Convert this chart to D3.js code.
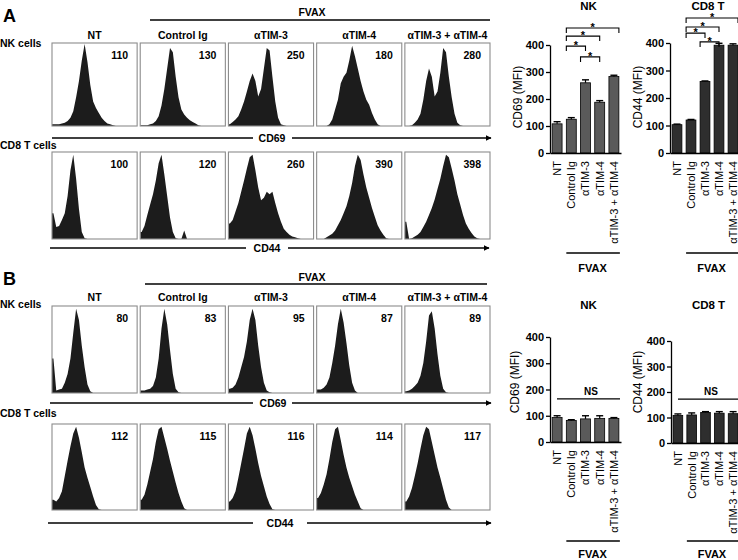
<!DOCTYPE html>
<html>
<head>
<meta charset="utf-8">
<script src="https://cdn.jsdelivr.net/npm/d3@7"></script>
<style>
  html, body { margin: 0; padding: 0; background: #fff; }
  svg { display: block; font-family: "Liberation Sans", Arial, sans-serif; }
</style>
</head>
<body>
<svg id="fig" width="738" height="560"></svg>
<script>
// ---------------- DATA ----------------
const conditions = ["NT", "Control Ig", "αTIM-3", "αTIM-4", "αTIM-3 + αTIM-4"];
const treated = ["Control Ig", "αTIM-3", "αTIM-4", "αTIM-3 + αTIM-4"];

// MFI numbers printed inside the flow histograms
const mfiA_NK  = [110, 130, 250, 180, 280];
const mfiA_CD8 = [100, 120, 260, 390, 398];
const mfiB_NK  = [80, 83, 95, 87, 89];
const mfiB_CD8 = [112, 115, 116, 114, 117];

// Histogram heights (fraction of box height) read per bin across each box (30 bins)
const histA_NK = [
  [0.02,0.02,0.02,0.03,0.04,0.06,0.10,0.18,0.35,0.55,0.80,1.00,0.78,0.50,0.30,0.22,0.16,0.10,0.06,0.03,0.02,0.01,0,0,0,0,0,0,0,0],
  [0.01,0.01,0.01,0.02,0.03,0.06,0.12,0.25,0.45,0.70,0.95,0.90,0.60,0.35,0.20,0.14,0.10,0.07,0.05,0.03,0.01,0,0,0,0,0,0,0,0,0],
  [0.02,0.05,0.08,0.12,0.20,0.30,0.42,0.55,0.64,0.55,0.36,0.45,0.70,0.95,0.92,0.60,0.30,0.10,0.02,0.01,0,0,0,0,0,0,0,0,0,0],
  [0,0,0,0,0.02,0.08,0.20,0.32,0.52,0.60,0.65,0.80,0.98,0.85,0.70,0.55,0.42,0.32,0.26,0.16,0.08,0.02,0,0,0,0,0,0,0,0],
  [0,0,0.01,0.04,0.08,0.15,0.32,0.55,0.70,0.60,0.36,0.42,0.65,0.95,0.90,0.60,0.35,0.15,0.04,0.01,0,0,0,0,0,0,0,0,0,0]
];
const histA_CD8 = [
  [0.30,0.14,0.15,0.22,0.30,0.50,0.80,0.98,0.70,0.35,0.08,0.01,0,0,0,0,0,0,0,0,0,0,0,0,0,0,0,0,0,0],
  [0.08,0.15,0.28,0.40,0.52,0.68,0.88,0.98,0.75,0.50,0.25,0.08,0.01,0,0,0.10,0,0,0,0,0,0,0,0,0,0,0,0,0,0],
  [0.18,0.22,0.32,0.42,0.55,0.68,0.82,0.95,0.98,0.80,0.60,0.45,0.48,0.55,0.52,0.55,0.42,0.30,0.20,0.12,0.08,0.05,0.03,0.02,0.01,0,0,0,0,0],
  [0,0,0,0.02,0.04,0.06,0.10,0.16,0.22,0.30,0.38,0.50,0.65,0.85,0.98,0.92,0.75,0.60,0.48,0.36,0.26,0.16,0.10,0.05,0.01,0,0,0,0,0],
  [0.20,0,0.01,0.03,0.05,0.08,0.14,0.20,0.28,0.36,0.46,0.58,0.70,0.85,0.98,0.95,0.82,0.68,0.52,0.40,0.28,0.18,0.12,0.07,0.03,0.01,0,0,0,0]
];
const histB_NK = [
  [0.40,0.03,0.04,0.05,0.12,0.22,0.40,0.70,0.98,0.85,0.55,0.30,0.10,0.02,0,0,0,0,0,0,0,0,0,0,0,0,0,0,0,0],
  [0.03,0.03,0.04,0.05,0.08,0.18,0.40,0.75,0.98,0.80,0.50,0.22,0.05,0.01,0,0,0,0,0,0,0,0,0,0,0,0,0,0,0,0],
  [0.05,0.06,0.10,0.18,0.30,0.42,0.60,0.85,0.98,0.85,0.55,0.30,0.12,0.03,0.01,0,0,0,0,0,0,0,0,0,0,0,0,0,0,0],
  [0.04,0.04,0.06,0.10,0.18,0.35,0.55,0.80,0.98,0.82,0.58,0.32,0.12,0.03,0,0,0,0,0,0,0,0,0,0,0,0,0,0,0,0],
  [0.02,0.03,0.05,0.08,0.12,0.20,0.35,0.60,0.90,0.95,0.75,0.45,0.20,0.05,0.01,0,0,0,0,0,0,0,0,0,0,0,0,0,0,0]
];
const histB_CD8 = [
  [0.12,0.10,0.14,0.22,0.40,0.58,0.75,0.90,0.98,0.85,0.68,0.50,0.38,0.27,0.16,0.06,0.01,0,0,0,0,0,0,0,0,0,0,0,0,0],
  [0.12,0.18,0.30,0.45,0.60,0.80,0.95,0.98,0.85,0.72,0.58,0.45,0.32,0.20,0.10,0.02,0,0,0,0,0,0,0,0,0,0,0,0,0,0],
  [0.10,0.14,0.22,0.38,0.55,0.72,0.90,0.98,0.88,0.72,0.55,0.40,0.28,0.16,0.07,0.01,0,0,0,0,0,0,0,0,0,0,0,0,0,0],
  [0.14,0.20,0.30,0.42,0.60,0.80,0.95,0.98,0.82,0.65,0.50,0.38,0.28,0.18,0.10,0.02,0,0,0,0,0,0,0,0,0,0,0,0,0,0],
  [0.10,0.16,0.26,0.40,0.55,0.72,0.88,0.98,0.95,0.80,0.65,0.50,0.38,0.25,0.12,0.03,0,0,0,0,0,0,0,0,0,0,0,0,0,0]
];

// Bar chart summaries (mean MFI and error)
const barA_NK   = [108, 125, 260, 188, 283];
const errA_NK   = [8, 6, 11, 6, 5];
const barA_CD8  = [103, 120, 260, 392, 392];
const errA_CD8  = [2, 2, 2, 7, 5];
const barB_NK   = [93, 82, 88, 90, 90];
const errB_NK   = [7, 3, 12, 10, 3];
const barB_CD8  = [108, 110, 120, 117, 115];
const errB_CD8  = [6, 8, 3, 6, 8];
const yTicks = [0, 100, 200, 300, 400];

// Significance brackets: [from, to, level (MFI units)]
const sigA_NK = [
  ["Control Ig", "αTIM-3", 396],
  ["Control Ig", "αTIM-4", 433],
  ["Control Ig", "αTIM-3 + αTIM-4", 463],
  ["αTIM-3", "αTIM-4", 356]
];
const sigA_CD8 = [
  ["Control Ig", "αTIM-3", 436],
  ["Control Ig", "αTIM-4", 458],
  ["Control Ig", "αTIM-3 + αTIM-4", 491],
  ["αTIM-3", "αTIM-4", 404]
];
const nsLevelB_NK = 164;
const nsLevelB_CD8 = 172;

// ---------------- DRAWING ----------------
const svg = d3.select("#fig");
svg.append("rect").attr("width", 738).attr("height", 560).attr("fill", "#fff");
const FONT = "'Liberation Sans', Arial, sans-serif";

const defs = svg.append("defs");
defs.append("marker").attr("id", "arrow").attr("viewBox", "0 0 10 10")
  .attr("refX", 9).attr("refY", 5).attr("markerWidth", 6).attr("markerHeight", 6)
  .attr("markerUnits", "userSpaceOnUse").attr("orient", "auto")
  .append("path").attr("d", "M0,0 L10,5 L0,10 Z").attr("fill", "#000");

function txt(x, y, s, opts = {}) {
  return svg.append("text").attr("x", x).attr("y", y).text(s)
    .attr("font-family", FONT)
    .attr("font-size", opts.size || 10.5)
    .attr("font-weight", opts.weight || "bold")
    .attr("text-anchor", opts.anchor || "start")
    .attr("fill", "#000");
}
function hline(x1, x2, y, w = 1.3) {
  svg.append("line").attr("x1", x1).attr("x2", x2).attr("y1", y).attr("y2", y)
    .attr("stroke", "#000").attr("stroke-width", w);
}

const boxX = d3.scaleBand().domain(conditions).range([52, 490]).paddingInner(0.035).paddingOuter(0);

function histRow(hists, mfis, top, bottom, clipId) {
  const g = svg.append("g");
  conditions.forEach((c, k) => {
    const x0 = boxX(c), w = boxX.bandwidth();
    const n = hists[k].length;
    const hx = d3.scaleLinear().domain([0, n]).range([x0, x0 + w]);
    const hy = d3.scaleLinear().domain([0, 1]).range([bottom, top + 1]);
    const pts = [{ x: 0, v: hists[k][0] }]
      .concat(hists[k].map((v, i) => ({ x: i + 0.5, v })))
      .concat([{ x: n, v: hists[k][n - 1] }]);
    const id = clipId + k;
    defs.append("clipPath").attr("id", id).append("rect")
      .attr("x", x0).attr("y", top).attr("width", w).attr("height", bottom - top);
    const area = d3.area().x(d => hx(d.x)).y0(bottom).y1(d => hy(d.v)).curve(d3.curveLinear);
    g.append("path").datum(pts).attr("d", area).attr("fill", "#1c1c1c")
      .attr("clip-path", `url(#${id})`);
    g.append("rect").attr("x", x0).attr("y", top).attr("width", w).attr("height", bottom - top)
      .attr("fill", "none").attr("stroke", "#8c8c8c").attr("stroke-width", 1.1);
    txt(x0 + w - 9, top + 15.5, mfis[k], { size: 10.5, anchor: "end" });
  });
}

function arrowAxis(y, leftStart, leftEnd, label, labelX, rightStart, rightEnd) {
  hline(leftStart, leftEnd, y);
  txt(labelX, y + 4, label, { size: 10.5, anchor: "middle" });
  svg.append("line").attr("x1", rightStart).attr("x2", rightEnd).attr("y1", y).attr("y2", y)
    .attr("stroke", "#000").attr("stroke-width", 1.3).attr("marker-end", "url(#arrow)");
}

function headers(yBase, fvaxY, lineY, lineX1, lineX2) {
  txt(312, fvaxY, "FVAX", { size: 10.5, anchor: "middle" });
  hline(lineX1, lineX2, lineY);
  conditions.forEach(c => {
    txt(boxX(c) + boxX.bandwidth() / 2, yBase, c, { size: 10.5, anchor: "middle" });
  });
}

// ---- Panel A ----
txt(3, 22, "A", { size: 18 });
headers(39, 16, 20, 150, 490);
txt(0, 47, "NK cells", { size: 10.5 });
histRow(histA_NK, mfiA_NK, 43, 126, "cA1_");
arrowAxis(138, 52, 253, "CD69", 272, 292, 491);
txt(0, 149, "CD8 T cells", { size: 10.5 });
histRow(histA_CD8, mfiA_CD8, 152, 239, "cA2_");
arrowAxis(248, 50, 246, "CD44", 267, 288, 489);

// ---- Panel B ----
txt(3, 285, "B", { size: 18 });
headers(301, 281, 284, 145, 487);
txt(0, 308, "NK cells", { size: 10.5 });
histRow(histB_NK, mfiB_NK, 306, 393, "cB1_");
arrowAxis(403, 50, 253, "CD69", 273, 292, 491);
txt(0, 417, "CD8 T cells", { size: 10.5 });
histRow(histB_CD8, mfiB_CD8, 424, 510, "cB2_");
arrowAxis(523, 48, 253, "CD44", 280, 307, 491);

// ---- Bar charts ----
function barChart(o) {
  const x = d3.scaleBand().domain(conditions).range([o.x0, o.x1]).paddingInner(0.3).paddingOuter(0.15);
  const y = d3.scaleLinear().domain([0, 400]).range([o.yBottom, o.yTop]);
  const g = svg.append("g").attr("font-family", FONT);

  // title
  txt((o.x0 + o.x1) / 2 + 3, o.titleY, o.title, { size: 11.5, anchor: "middle" });

  // bars
  g.selectAll("rect.bar").data(conditions).join("rect").attr("class", "bar")
    .attr("x", c => x(c)).attr("width", x.bandwidth())
    .attr("y", (c, i) => y(o.values[i])).attr("height", (c, i) => y(0) - y(o.values[i]))
    .attr("fill", o.color).attr("stroke", "#000").attr("stroke-width", 0.8);

  // error bars
  const eb = g.selectAll("g.err").data(conditions).join("g").attr("class", "err");
  eb.append("line")
    .attr("x1", c => x(c) + x.bandwidth() / 2).attr("x2", c => x(c) + x.bandwidth() / 2)
    .attr("y1", (c, i) => y(o.values[i])).attr("y2", (c, i) => y(o.values[i] + o.errors[i]))
    .attr("stroke", "#000").attr("stroke-width", 1.2);
  eb.append("line")
    .attr("x1", c => x(c) + x.bandwidth() / 2 - 3.5).attr("x2", c => x(c) + x.bandwidth() / 2 + 3.5)
    .attr("y1", (c, i) => y(o.values[i] + o.errors[i])).attr("y2", (c, i) => y(o.values[i] + o.errors[i]))
    .attr("stroke", "#000").attr("stroke-width", 1.4);

  // y axis
  const ya = g.append("g").attr("transform", `translate(${o.x0},0)`)
    .call(d3.axisLeft(y).tickValues(yTicks).tickSize(4).tickSizeOuter(0).tickPadding(2));
  ya.select(".domain").attr("stroke-width", 1.3);
  ya.selectAll(".tick line").attr("stroke-width", 1.3);
  ya.selectAll("text").attr("font-size", 11).attr("font-weight", "bold").attr("font-family", FONT);

  // x axis
  const xa = g.append("g").attr("transform", `translate(0,${o.yBottom})`)
    .call(d3.axisBottom(x).tickSize(0).tickSizeOuter(0));
  xa.select(".domain").attr("stroke-width", 1.5);
  xa.selectAll("text").attr("font-size", 11).attr("font-family", FONT)
    .attr("transform", "rotate(-90)").attr("text-anchor", "end")
    .attr("x", -8).attr("y", 0).attr("dy", "0.36em");

  // y label
  svg.append("text").attr("transform", `translate(${o.labelX},${o.labelY}) rotate(-90)`)
    .attr("text-anchor", "middle").attr("font-family", FONT).attr("font-size", 12)
    .text(o.yLabel);

  // significance
  if (o.sig) {
    o.sig.forEach(([a, b, lvl]) => {
      const xl = x(a), xr = x(b) + x.bandwidth() / 2 + (b === conditions[4] ? 5 : 0);
      const yy = y(lvl);
      g.append("path").attr("d", `M${xl},${yy + 5}V${yy}H${xr}V${yy + 5}`)
        .attr("fill", "none").attr("stroke", "#000").attr("stroke-width", 1.1);
      g.append("text").attr("x", (xl + xr) / 2).attr("y", yy + 3).attr("text-anchor", "middle")
        .attr("font-size", 11).attr("font-weight", "bold").attr("fill", "#000").text("*");
    });
  }
  if (o.ns !== undefined) {
    const yy = y(o.ns);
    g.append("line").attr("x1", o.nsX1).attr("x2", o.x1 - 1).attr("y1", yy).attr("y2", yy)
      .attr("stroke", "#000").attr("stroke-width", 1.2);
    g.append("text").attr("x", (o.nsX1 + o.x1) / 2 + 2).attr("y", yy - 4).attr("text-anchor", "middle")
      .attr("font-size", 10).attr("font-weight", "bold").text("NS");
  }

  // FVAX bracket under treated categories
  const fx1 = x(treated[0]), fx2 = Math.min(x(treated[3]) + x.bandwidth(), 737);
  hline(fx1, fx2 + 1, o.fvaxLineY, 1.3);
  txt((fx1 + fx2) / 2, o.fvaxTextY, "FVAX", { size: 11, anchor: "middle" });
}

barChart({ x0: 550, x1: 621, yBottom: 153, yTop: 45, values: barA_NK, errors: errA_NK,
  color: "#5a5a5a", title: "NK", titleY: 10, yLabel: "CD69 (MFI)", labelX: 522, labelY: 97,
  sig: sigA_NK, fvaxLineY: 253, fvaxTextY: 272 });
barChart({ x0: 670, x1: 740, yBottom: 153, yTop: 43, values: barA_CD8, errors: errA_CD8,
  color: "#2e2e2e", title: "CD8 T", titleY: 10, yLabel: "CD44 (MFI)", labelX: 642, labelY: 97,
  sig: sigA_CD8, fvaxLineY: 253, fvaxTextY: 272 });
barChart({ x0: 550, x1: 621, yBottom: 442, yTop: 337, values: barB_NK, errors: errB_NK,
  color: "#5a5a5a", title: "NK", titleY: 309, yLabel: "CD69 (MFI)", labelX: 519, labelY: 382,
  ns: nsLevelB_NK, nsX1: 557, fvaxLineY: 541, fvaxTextY: 558 });
barChart({ x0: 671, x1: 740, yBottom: 443, yTop: 341, values: barB_CD8, errors: errB_CD8,
  color: "#2e2e2e", title: "CD8 T", titleY: 309, yLabel: "CD44 (MFI)", labelX: 642, labelY: 382,
  ns: nsLevelB_CD8, nsX1: 678, fvaxLineY: 541, fvaxTextY: 558 });
</script>
</body>
</html>
